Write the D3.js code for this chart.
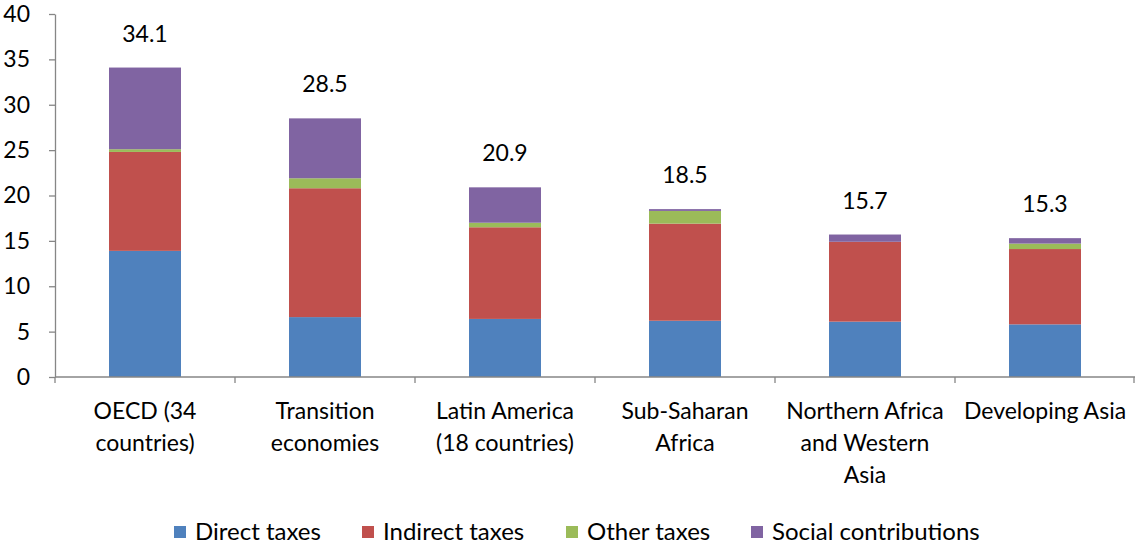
<!DOCTYPE html>
<html>
<head>
<meta charset="utf-8">
<script src="https://cdn.jsdelivr.net/npm/d3@7"></script>
<style>
  html, body { margin: 0; padding: 0; background: #fff; }
  svg { display: block; font-family: Lato, "Open Sans", sans-serif; }
</style>
</head>
<body>
<svg id="chart" width="1135" height="546"></svg>
<script>
// Region labels (line breaks as shown under the axis)
const categories = [
  "OECD (34\ncountries)",
  "Transition\neconomies",
  "Latin America\n(18 countries)",
  "Sub-Saharan\nAfrica",
  "Northern Africa\nand Western\nAsia",
  "Developing Asia"
];
const seriesNames = ["Direct taxes", "Indirect taxes", "Other taxes", "Social contributions"];
const colors = ["#4F81BD", "#C0504D", "#9BBB59", "#8064A2"];

// Revenue components, % of GDP
const directTaxes   = [13.9, 6.6, 6.4, 6.2, 6.1, 5.8];
const indirectTaxes = [10.9, 14.2, 10.1, 10.7, 8.8, 8.3];
const otherTaxes    = [0.3, 1.1, 0.5, 1.4, 0.0, 0.6];
const socialContrib = [9.0, 6.6, 3.9, 0.2, 0.8, 0.6];
const totals        = [34.1, 28.5, 20.9, 18.5, 15.7, 15.3];

const yTicks = [0, 5, 10, 15, 20, 25, 30, 35, 40];

const svg = d3.select("#chart");
const margin = { left: 55, right: 0, top: 14, bottom: 169 };
const W = 1135, H = 546;

const rows = categories.map((c, i) => ({
  cat: c,
  "Direct taxes": directTaxes[i],
  "Indirect taxes": indirectTaxes[i],
  "Other taxes": otherTaxes[i],
  "Social contributions": socialContrib[i],
  total: totals[i]
}));

const x = d3.scaleBand().domain(categories).range([margin.left, W - margin.right]).paddingInner(0.6).paddingOuter(0.3);
const y = d3.scaleLinear().domain([0, 40]).range([H - margin.bottom, margin.top]);

const stack = d3.stack().keys(seriesNames)(rows);

// Stacked bars
svg.append("g").selectAll("g").data(stack).join("g")
  .attr("fill", (d, i) => colors[i])
  .selectAll("rect").data(d => d).join("rect")
  .attr("x", d => x(d.data.cat))
  .attr("width", x.bandwidth())
  .attr("y", d => y(d[1]))
  .attr("height", d => Math.max(0, y(d[0]) - y(d[1])));

// Y axis
const yAxis = svg.append("g")
  .attr("transform", `translate(${margin.left},0)`)
  .call(d3.axisLeft(y).tickValues(yTicks).tickSize(6).tickSizeOuter(0).tickPadding(19));
yAxis.select(".domain").attr("stroke", "#868686").attr("stroke-width", 1.3);
yAxis.selectAll(".tick line").attr("stroke", "#868686").attr("stroke-width", 1.3);
yAxis.selectAll(".tick text").attr("fill", "#000").style("font-size", "23px").style("font-family", "Lato, sans-serif");

// X axis line with category boundary ticks
const x0 = margin.left, x1 = W - margin.right;
const step = (x1 - x0) / categories.length;
const gx = svg.append("g");
gx.append("line").attr("x1", x0).attr("x2", x1).attr("y1", y(0)).attr("y2", y(0))
  .attr("stroke", "#868686").attr("stroke-width", 1.3);
d3.range(categories.length + 1).forEach(i => {
  const px = Math.min(x0 + i * step, x1 - 1);
  gx.append("line").attr("x1", px).attr("x2", px).attr("y1", y(0)).attr("y2", y(0) + 6)
    .attr("stroke", "#868686").attr("stroke-width", 1.3);
});

// Category labels
categories.forEach(c => {
  const cx = x(c) + x.bandwidth() / 2;
  const t = svg.append("text").attr("text-anchor", "middle")
    .attr("font-size", 23).attr("fill", "#000");
  c.split("\n").forEach((line, j) => {
    t.append("tspan").attr("x", cx).attr("y", 419 + j * 32).text(line);
  });
});

// Totals above bars
svg.append("g").selectAll("text").data(rows).join("text")
  .attr("x", d => x(d.cat) + x.bandwidth() / 2)
  .attr("y", d => y(d.total) - 26)
  .attr("text-anchor", "middle")
  .attr("font-size", 23)
  .attr("fill", "#000")
  .text(d => d.total.toFixed(1));

// Legend
const legendX = [174, 362, 566, 751];
const lg = svg.append("g");
seriesNames.forEach((s, i) => {
  lg.append("rect").attr("x", legendX[i]).attr("y", 526).attr("width", 12).attr("height", 12).attr("fill", colors[i]);
  lg.append("text").attr("x", legendX[i] + 21).attr("y", 540).attr("font-size", 24).attr("fill", "#000").text(s);
});
</script>
</body>
</html>
